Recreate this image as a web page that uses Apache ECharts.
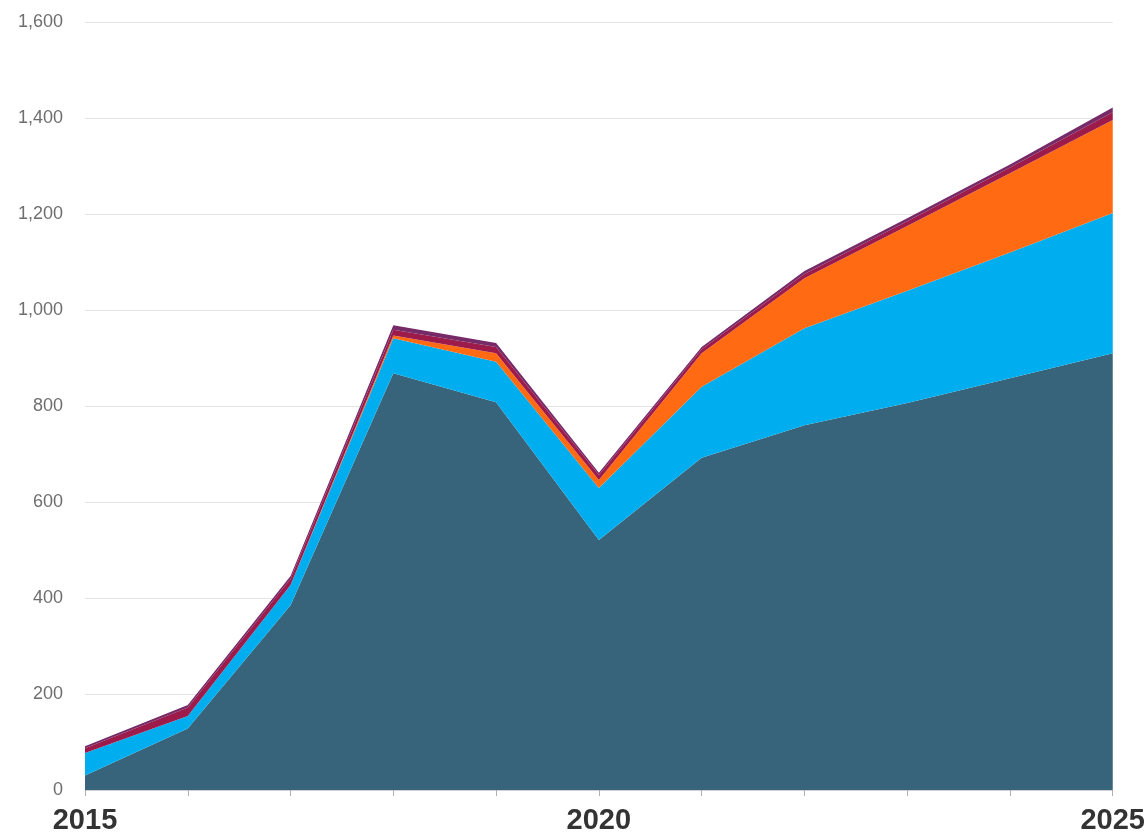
<!DOCTYPE html>
<html>
<head>
<meta charset="utf-8">
<style>html,body{margin:0;padding:0;background:#fff;}#c{width:1148px;height:837px;}</style>
<script src="https://cdn.jsdelivr.net/npm/echarts@6/dist/echarts.min.js"></script>
</head>
<body>
<div id="c"></div>
<script>
const years = ['2015','2016','2017','2018','2019','2020','2021','2022','2023','2024','2025'];
const shownYears = ['2015','2020','2025'];
const seriesDark = [30, 128, 385, 868, 808, 521, 692, 760, 806, 858, 910];
const seriesBlue = [47, 26, 42, 73, 84, 108, 148, 202, 234, 262, 292];
const seriesOrange = [0, 0, 0, 6, 18, 17, 70, 104, 135, 165, 194];
const seriesCrimson = [10, 18, 13, 12, 13, 10, 8, 9, 10, 12, 16];
const seriesPurple = [4, 5, 6, 9, 8, 5, 5, 6, 6, 6, 10];

const layers = [
  {name:'A', data: seriesDark, color:'#37647a'},
  {name:'B', data: seriesBlue, color:'#00aeef'},
  {name:'C', data: seriesOrange, color:'#ff6a12'},
  {name:'D', data: seriesCrimson, color:'#9c1b4a'},
  {name:'E', data: seriesPurple, color:'#772a68'}
];

const chart = echarts.init(document.getElementById('c'));
chart.setOption({
  animation: false,
  grid: {left: 85, right: 35, top: 22, bottom: 47},
  xAxis: {
    type: 'category',
    data: years,
    boundaryGap: false,
    axisLine: {show: true, lineStyle: {color: '#d0d0d0', width: 1}},
    axisTick: {show: true, interval: 0, length: 6, lineStyle: {color: '#b0b0b0'}},
    axisLabel: {
      interval: 0,
      formatter: v => shownYears.includes(v) ? v : '',
      fontFamily: 'Liberation Sans, Arial, sans-serif',
      fontWeight: 'bold',
      fontSize: 29,
      color: '#333',
      margin: 16
    },
    splitLine: {show: false}
  },
  yAxis: {
    type: 'value',
    min: 0, max: 1600, interval: 200,
    axisLine: {show: false},
    axisTick: {show: false},
    axisLabel: {
      formatter: v => v.toLocaleString('en-US'),
      fontFamily: 'Liberation Sans, Arial, sans-serif',
      fontSize: 18,
      color: '#6e6e6e',
      margin: 22
    },
    splitLine: {lineStyle: {color: '#e3e3e3', width: 1}}
  },
  series: layers.map(l => ({
    name: l.name,
    type: 'line',
    stack: 'total',
    data: l.data,
    symbol: 'none',
    lineStyle: {width: 0},
    areaStyle: {color: l.color, opacity: 1},
    itemStyle: {color: l.color}
  }))
});
</script>
</body>
</html>
